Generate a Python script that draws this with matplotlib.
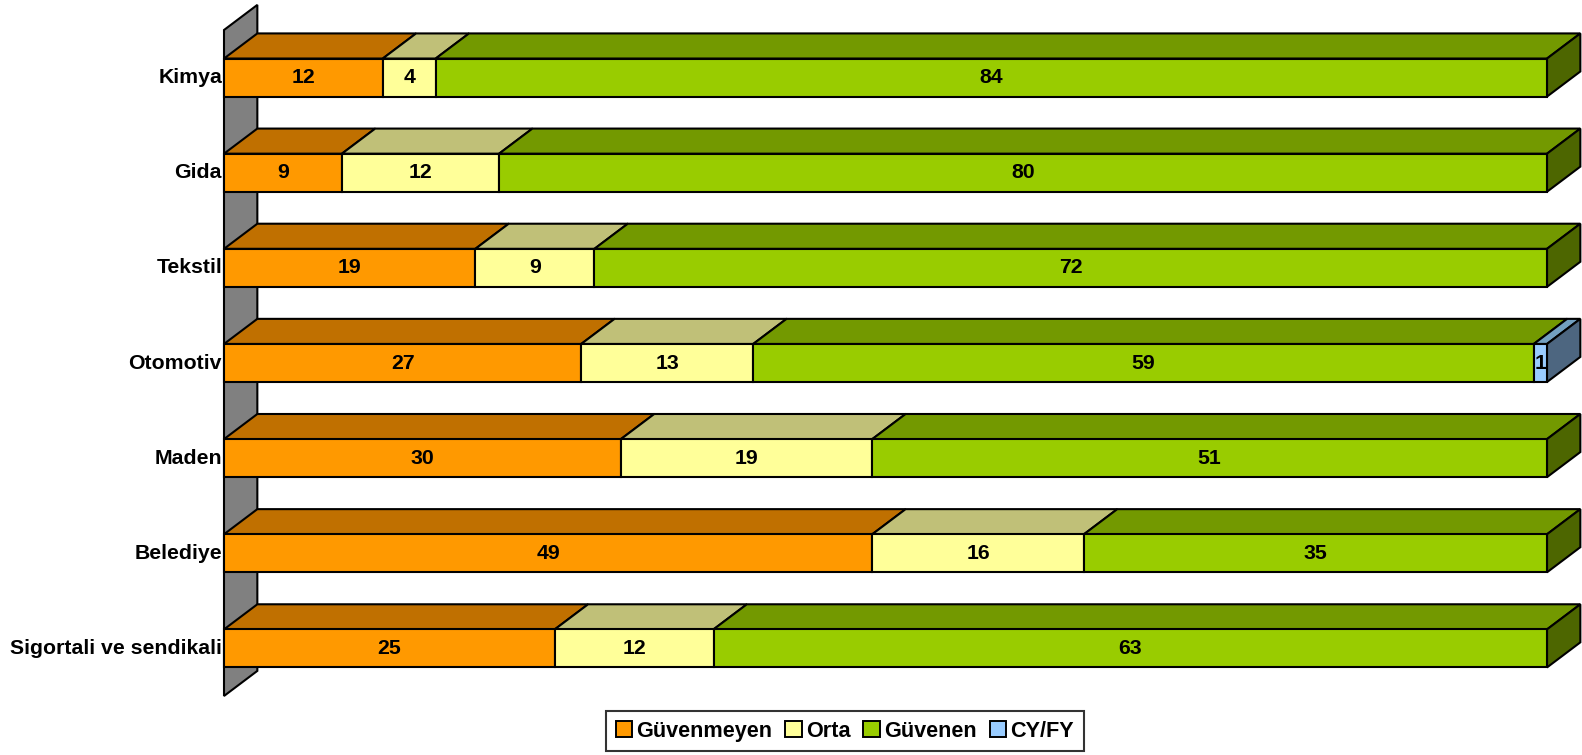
import numpy as np
import matplotlib.pyplot as plt
from matplotlib.patches import Polygon, Patch

plt.switch_backend('agg')
plt.rcParams['font.family'] = ['Liberation Sans', 'DejaVu Sans']

categories = ['Kimya', 'Gida', 'Tekstil', 'Otomotiv', 'Maden', 'Belediye',
              'Sigortali ve sendikali']
series = ['Güvenmeyen', 'Orta', 'Güvenen', 'CY/FY']
guvenmeyen = [12, 9, 19, 27, 30, 49, 25]
orta = [4, 12, 9, 13, 19, 16, 12]
guvenen = [84, 80, 72, 59, 51, 35, 63]
cyfy = [0, 0, 0, 1, 0, 0, 0]

# front, top, side shades per series
front_cols = ['#FF9900', '#FFFF99', '#99CC00', '#99CCFF']
top_cols = ['#C07000', '#C0C078', '#739900', '#73A0C0']
side_cols = ['#7F4C00', '#80804C', '#4D6600', '#4D6680']

values = np.array([guvenmeyen, orta, guvenen, cyfy], dtype=float)
shares = values / values.sum(axis=0) * 100

fig = plt.figure(figsize=(15.82, 7.55), dpi=100)
ax = fig.add_axes([224 / 1582, 59 / 755, 1323 / 1582, 666 / 755])
ax.set_xlim(0, 100)
ax.set_ylim(6.5, -0.5)
ax.axis('off')

DX = 2.52   # depth offset in percent units
DY = 0.264  # depth offset in category units
H = 0.40
LW = 1.5

# back wall
wall = Polygon([(0, -0.5), (DX, -0.5 - DY), (DX, 6.5 - DY), (0, 6.5)],
               closed=True, facecolor='#808080', edgecolor='black',
               lw=LW, clip_on=False, zorder=1)
ax.add_patch(wall)

ypos = np.arange(len(categories))
for i, y in enumerate(ypos):
    top_y = y - H / 2
    bot_y = y + H / 2
    left = 0.0
    last = max(k for k in range(len(series)) if shares[k, i] > 0)
    for k in range(len(series)):
        w = shares[k, i]
        if w <= 0:
            continue
        right = left + w
        top = Polygon([(left, top_y), (left + DX, top_y - DY),
                       (right + DX, top_y - DY), (right, top_y)],
                      closed=True, facecolor=top_cols[k], edgecolor='black',
                      lw=LW, clip_on=False, zorder=2)
        ax.add_patch(top)
        if k == last:
            side = Polygon([(right, top_y), (right + DX, top_y - DY),
                            (right + DX, bot_y - DY), (right, bot_y)],
                           closed=True, facecolor=side_cols[k],
                           edgecolor='black', lw=LW, clip_on=False, zorder=2)
            ax.add_patch(side)
        ax.barh(y, w, left=left, height=H, color=front_cols[k],
                edgecolor='black', lw=LW, zorder=3, clip_on=False)
        ax.text(left + w / 2, y, f'{int(values[k, i])}', ha='center',
                va='center', fontsize=15.3, fontweight='bold', zorder=4)
        left = right

for y, name in zip(ypos, categories):
    ax.text(-0.15, y, name, ha='right', va='center', fontsize=15.3,
            fontweight='bold')

handles = [Patch(facecolor=c, edgecolor='black', lw=1.4) for c in front_cols]
leg = fig.legend(handles, series, loc='center', ncol=4,
                 bbox_to_anchor=(0.534, 0.0315), frameon=True, fancybox=False,
                 prop={'weight': 'bold', 'size': 15.6}, handlelength=0.75,
                 handleheight=0.75, handletextpad=0.2, columnspacing=0.6,
                 borderpad=0.45, borderaxespad=0)
leg.get_frame().set_edgecolor('black')
leg.get_frame().set_linewidth(1.5)

fig.savefig('out.png', dpi=100)
